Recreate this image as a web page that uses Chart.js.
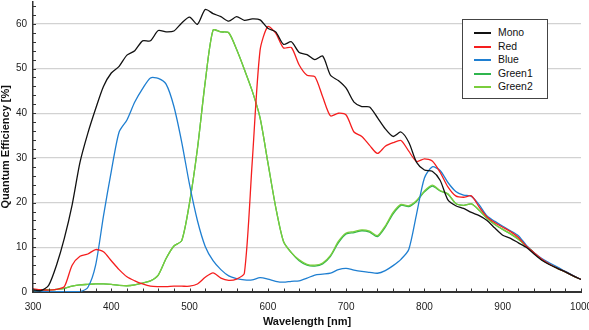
<!DOCTYPE html>
<html>
<head>
<meta charset="utf-8">
<script src="https://cdn.jsdelivr.net/npm/chart.js@4.4.0/dist/chart.umd.min.js"></script>
<style>
  html, body { margin: 0; padding: 0; background: #fff; }
  #wrap { position: relative; width: 589px; height: 330px; }
  #legend { position: absolute; left: 462px; top: 19px; width: 86px; height: 80px; box-sizing: border-box;
            border: 1px solid #444; background: #fff; font-family: "Liberation Sans", Arial, sans-serif; font-size: 10.4px; color: #111; }
  .row { position: absolute; left: 0; height: 13px; line-height: 13px; }
  .swatch { position: absolute; left: 11px; top: 6px; width: 17px; height: 2px; }
  .lbl { position: absolute; left: 35px; top: 0; white-space: nowrap; }
</style>
</head>
<body>
<div id="wrap">
  <canvas id="c" width="589" height="330"></canvas>
  <div id="legend"></div>
</div>
<script>
const wavelengths = [300,310,320,330,340,350,360,370,380,390,400,410,420,430,440,450,460,470,480,490,
  500,510,520,530,540,550,560,570,580,590,600,610,620,630,640,650,660,670,680,690,
  700,710,720,730,740,750,760,770,780,790,800,810,820,830,840,850,860,870,880,890,
  900,910,920,930,940,950,960,970,980,990,1000];

const mono = [0.5,0.3,1.5,6,12,19.5,29,35.5,41,46,49,50.5,53,54,56.2,56.2,58.5,58.2,58.4,60.2,
  61.5,59.9,63.2,62.3,61.6,60.6,61.6,60.8,61.1,60.9,59,58.2,55.4,56,53.6,53.1,52,52.8,48.5,47.3,
  45.6,42.5,41.5,41.4,39,36.5,34.8,35.8,33.5,29,27.3,27,25,20.6,19.3,18.7,17.8,17.1,16,14.3,
  12.7,12,11,10,8.5,7.1,6.1,5.3,4.5,3.6,2.8];

const red = [0.7,0.5,0.4,0.6,1.2,6,8,8.5,9.5,9.0,7.0,5.0,3.4,2.5,1.8,1.3,1.2,1.2,1.3,1.3,
  1.3,1.8,3.3,4.3,3.1,2.6,2.9,4.2,29,54,59.4,57.9,54.6,54.7,50.8,48.5,48.2,43.7,39.4,40,
  39.6,35.8,34.8,32.8,31,32.6,33.4,33.9,31.5,29.2,29.8,29.3,26.8,23.5,21.5,21.2,21.5,19,16.8,15.5,
  14.5,13.5,12.2,10.3,8.8,7.3,6.2,5.3,4.5,3.6,2.8];

const blue = [0.3,0.2,0.1,0.1,0.1,0.1,0.1,1.0,6,17,27,35.8,38.5,42.5,45.5,47.9,47.8,46.5,41.5,33.5,
  24,16,10.2,7,5,3.6,3,2.7,2.7,3.2,2.9,2.4,2.2,2.4,2.5,3.1,3.8,4.0,4.2,5.0,
  5.3,4.9,4.6,4.4,4.2,4.8,5.9,7.3,9.5,17.5,25.5,28,27.2,24.5,22.5,21.7,21.4,19.5,17,15.8,
  14.7,13.7,12.6,10.5,8.8,7.5,6.5,5.6,4.6,3.7,2.8];

const green1 = [0.3,0.4,0.5,0.6,0.8,1.3,1.6,1.7,1.8,1.8,1.7,1.5,1.4,1.6,2.0,2.5,3.8,7.5,10.3,11.5,
  20,32,47,58.6,58.2,58,54.3,49.8,45,39,29,19,11.3,8.8,7.0,6.0,5.8,6.3,8.0,11.0,
  13.0,13.3,13.7,13.4,12.4,14.5,17.5,19.4,19.1,20.3,22.4,23.7,22.6,21.9,19.8,19.4,19.7,18.3,16.5,15.1,
  14,13,11.8,10.3,8.8,7.2,6.2,5.3,4.5,3.6,2.8];

const green2 = [0.3,0.4,0.5,0.6,0.8,1.3,1.6,1.7,1.8,1.8,1.7,1.5,1.4,1.6,2.0,2.5,3.8,7.5,10.3,11.5,
  20,32,47,58.6,58.2,58,54.3,49.8,45,39,29,19,11.3,8.8,7.2,6.2,6.0,6.5,8.2,11.3,
  13.2,13.5,13.9,13.6,12.6,14.8,17.8,19.6,19.3,20.5,22.6,23.9,22.7,22,19.8,19.4,19.7,18.3,16.5,15.1,
  14,13,11.8,10.3,8.8,7.2,6.2,5.3,4.5,3.6,2.8];

const seriesNames = ["Mono","Red","Blue","Green1","Green2"];
const seriesColors = ["#111111","#f51e1e","#1f7fd1","#2fb54e","#7acd3c"];
const seriesValues = [mono, red, blue, green1, green2];
const drawOrder = [1, 2, 3, 5, 4];

const xTickValues = [300,400,500,600,700,800,900,1000];
const yTickValues = [0,10,20,30,40,50,60];

const FONT = '"Liberation Sans", Arial, Helvetica, sans-serif';

const datasets = seriesNames.map((name, i) => ({
  label: name,
  data: wavelengths.map((w, j) => ({x: w, y: seriesValues[i][j]})),
  borderColor: seriesColors[i],
  backgroundColor: seriesColors[i],
  borderWidth: 1.3,
  pointRadius: 0,
  tension: 0.25,
  fill: false,
  order: drawOrder[i]
}));

const minorTicks = {
  id: 'minorTicks',
  afterDatasetsDraw(chart) {
    const ctx = chart.ctx, xs = chart.scales.x, ys = chart.scales.y;
    ctx.save();
    ctx.strokeStyle = '#333';
    ctx.lineWidth = 1;
    const yb = ys.getPixelForValue(0);
    for (let v = 300; v <= 1000; v += 20) {
      const px = Math.round(xs.getPixelForValue(v)) + 0.5;
      ctx.beginPath(); ctx.moveTo(px, yb); ctx.lineTo(px, yb - 3.5); ctx.stroke();
    }
    const xl = xs.getPixelForValue(300);
    for (let v = 2; v <= 64; v += 2) {
      const py = Math.round(ys.getPixelForValue(v)) + 0.5;
      ctx.beginPath(); ctx.moveTo(xl, py); ctx.lineTo(xl + 3, py); ctx.stroke();
    }
    ctx.restore();
  }
};

new Chart(document.getElementById('c'), {
  type: 'line',
  data: { datasets },
  plugins: [minorTicks],
  options: {
    responsive: false,
    animation: false,
    devicePixelRatio: 1,
    layout: { padding: { top: 1.5, right: 8, left: 0, bottom: 0 } },
    plugins: { legend: { display: false }, tooltip: { enabled: false } },
    scales: {
      x: {
        type: 'linear', min: 300, max: 1000,
        afterBuildTicks(s) { s.ticks = xTickValues.map(v => ({value: v})); },
        afterFit(s) { s.height = 38; s.paddingLeft = 0; s.paddingRight = 0; },
        grid: { drawOnChartArea: false, drawTicks: false },
        border: { display: true, color: '#333', width: 2 },
        ticks: { padding: 9, color: '#222', font: { family: FONT, size: 10 }, maxRotation: 0,
                 callback: (v) => String(v) },
        title: { display: true, text: 'Wavelength [nm]', color: '#111',
                 font: { family: FONT, size: 11, weight: 'bold' }, padding: { top: 0, bottom: 1.5 } }
      },
      y: {
        type: 'linear', min: 0, max: 65,
        afterBuildTicks(s) { s.ticks = yTickValues.map(v => ({value: v})); },
        afterFit(s) { s.width = 33; s.paddingTop = 0; s.paddingBottom = 0; },
        grid: { drawTicks: false, color: (c) => c.tick && c.tick.value === 0 ? 'rgba(0,0,0,0)' : '#d2d2d2', lineWidth: 1.2 },
        border: { display: true, color: '#333', width: 1.5 },
        ticks: { padding: 6, color: '#222', font: { family: FONT, size: 10 }, callback: (v) => String(v) },
        title: { display: true, text: 'Quantum Efficiency [%]', color: '#111',
                 font: { family: FONT, size: 11, weight: 'bold', lineHeight: 1.1 }, padding: { top: 0, bottom: 0 } }
      }
    }
  }
});

const legend = document.getElementById('legend');
seriesNames.forEach((name, i) => {
  const row = document.createElement('div');
  row.className = 'row';
  row.style.top = (6 + i * 13.5) + 'px';
  row.style.width = '100%';
  const sw = document.createElement('div');
  sw.className = 'swatch';
  sw.style.background = seriesColors[i];
  const lb = document.createElement('div');
  lb.className = 'lbl';
  lb.textContent = name;
  row.appendChild(sw); row.appendChild(lb);
  legend.appendChild(row);
});
</script>
</body>
</html>
